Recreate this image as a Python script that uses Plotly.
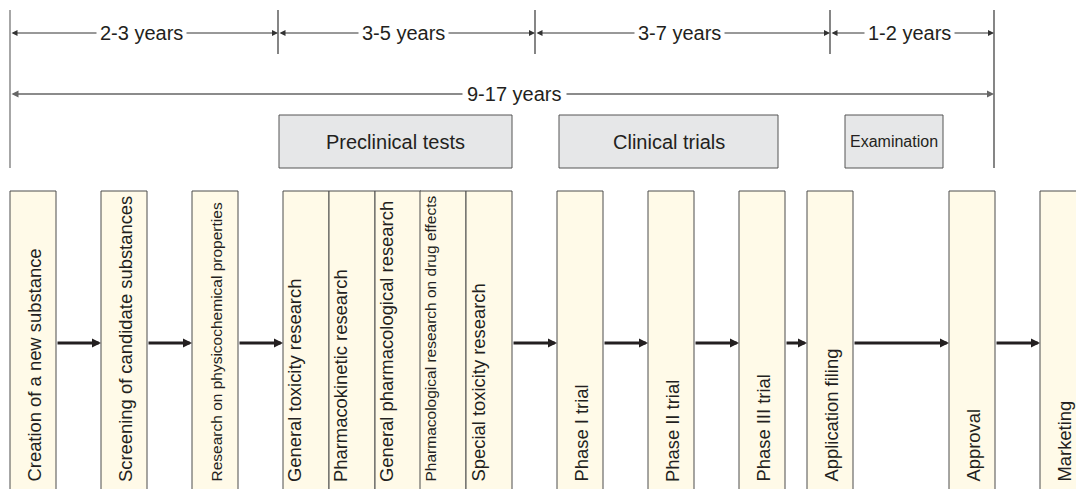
import plotly.graph_objects as go

# ---------------- data ----------------
stage_labels = [
    "Creation of a new substance",
    "Screening of candidate substances",
    "Research on physicochemical properties",
    "General toxicity research",
    "Pharmacokinetic research",
    "General pharmacological research",
    "Pharmacological research on drug effects",
    "Special toxicity research",
    "Phase I trial",
    "Phase II trial",
    "Phase III trial",
    "Application filing",
    "Approval",
    "Marketing",
]
stage_x = [10, 101, 192, 283, 329, 375, 420, 466, 557, 648, 739, 807, 949, 1040]
preclinical_idx = [3, 4, 5, 6, 7]
small_label_idx = [2, 6]

period_labels = ["2-3 years", "3-5 years", "3-7 years", "1-2 years"]
period_bounds = [10, 278, 535, 830, 994]
total_label = "9-17 years"

group_labels = ["Preclinical tests", "Clinical trials", "Examination"]
group_x0 = [279, 559, 845]
group_x1 = [512, 778, 943]

# ---------------- styles ----------------
W, H = 1076, 489
BAR_W = 46
BAR_TOP = 191
BAR_FILL = "#FFFAE8"
BAR_LINE = "#4d4d4d"
TXT = "#231F20"
FONT = "Liberation Sans, Arial, sans-serif"
ROW1_Y, ROW2_Y = 33, 94
FLOW_Y = 343

shapes = []
annotations = []

# bars
pre_set = set(preclinical_idx)
for i, x0 in enumerate(stage_x):
    shapes.append(dict(type="rect", xref="x", yref="y", x0=x0, x1=x0 + BAR_W,
                       y0=BAR_TOP, y1=H + 10, fillcolor=BAR_FILL,
                       line=dict(color=BAR_LINE, width=1), layer="below"))

# labels inside bars
for i, lab in enumerate(stage_labels):
    size = 15.5 if i in small_label_idx else 18.4
    if i in pre_set:
        annotations.append(dict(x=stage_x[i] - 1, y=484, xref="x", yref="y",
                                text=lab, textangle=-90, showarrow=False,
                                xanchor="left", yanchor="bottom",
                                font=dict(size=size, color=TXT, family=FONT)))
    else:
        annotations.append(dict(x=stage_x[i] + BAR_W / 2 + 1, y=484, xref="x", yref="y",
                                text=lab, textangle=-90, showarrow=False,
                                xanchor="center", yanchor="bottom",
                                font=dict(size=size, color=TXT, family=FONT)))

# flow arrows
for i in range(len(stage_x) - 1):
    if i in pre_set and (i + 1) in pre_set:
        continue
    annotations.append(dict(x=stage_x[i + 1], y=FLOW_Y, ax=stage_x[i] + BAR_W, ay=FLOW_Y,
                            xref="x", yref="y", axref="x", ayref="y", text="",
                            showarrow=True, arrowhead=2, arrowsize=0.6, arrowwidth=3,
                            arrowcolor="#231F20", standoff=0))

# group boxes
for lab, x0, x1 in zip(group_labels, group_x0, group_x1):
    shapes.append(dict(type="rect", xref="x", yref="y", x0=x0, x1=x1, y0=115, y1=168,
                       fillcolor="#E6E7E8", line=dict(color="#555555", width=1)))
    annotations.append(dict(x=(x0 + x1) / 2, y=141.5, xref="x", yref="y", text=lab,
                            showarrow=False,
                            font=dict(size=16 if lab == "Examination" else 20,
                                      color=TXT, family=FONT)))

# period boundary lines
for j, bx in enumerate(period_bounds):
    long = j in (0, len(period_bounds) - 1)
    shapes.append(dict(type="line", xref="x", yref="y", x0=bx, x1=bx, y0=10,
                       y1=168 if long else 54,
                       line=dict(color="#777777" if j == 0 else "#444444", width=1.3)))

# period dimension arrows
for j, lab in enumerate(period_labels):
    a, b = period_bounds[j], period_bounds[j + 1]
    annotations.append(dict(x=b, y=ROW1_Y, ax=a, ay=ROW1_Y, xref="x", yref="y",
                            axref="x", ayref="y", text="", showarrow=True,
                            arrowhead=2, arrowside="end+start", arrowsize=1.2,
                            arrowwidth=1, arrowcolor="#333333", standoff=0,
                            startstandoff=0))
    annotations.append(dict(x=(a + b) / 2 - 3, y=ROW1_Y, xref="x", yref="y", text=lab,
                            showarrow=False, bgcolor="white", borderpad=3,
                            font=dict(size=20, color=TXT, family=FONT)))

# total
annotations.append(dict(x=period_bounds[-1], y=ROW2_Y, ax=period_bounds[0], ay=ROW2_Y,
                        xref="x", yref="y", axref="x", ayref="y", text="",
                        showarrow=True, arrowhead=2, arrowside="end+start",
                        arrowsize=1.0, arrowwidth=1.4, arrowcolor="#666666",
                        standoff=0, startstandoff=0))
annotations.append(dict(x=(period_bounds[0] + period_bounds[-1]) / 2 + 12, y=ROW2_Y,
                        xref="x", yref="y", text=total_label, showarrow=False,
                        bgcolor="white", borderpad=4,
                        font=dict(size=20, color=TXT, family=FONT)))

fig = go.Figure()
fig.update_layout(
    width=W, height=H,
    margin=dict(l=0, r=0, t=0, b=0, pad=0),
    paper_bgcolor="white", plot_bgcolor="white",
    xaxis=dict(range=[0, W], visible=False, fixedrange=True),
    yaxis=dict(range=[H, 0], visible=False, fixedrange=True),
    shapes=shapes, annotations=annotations, showlegend=False,
)
fig.write_html("out.html", config={"displayModeBar": False},
               post_script="document.body.style.margin='0';document.body.style.overflow='hidden';")
